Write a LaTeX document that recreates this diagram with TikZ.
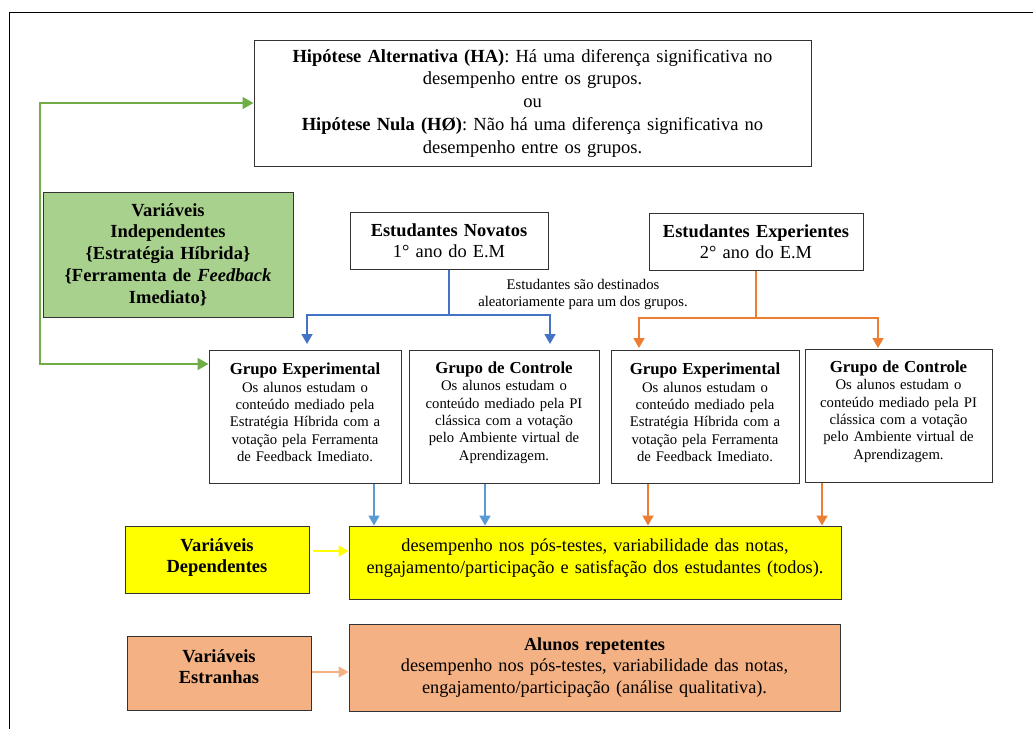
\documentclass[tikz,border=0pt]{standalone}
\usepackage{fontspec}
\setmainfont{Liberation Serif}
\usetikzlibrary{arrows.meta}
\definecolor{gline}{HTML}{70AD47}
\definecolor{gfill}{HTML}{A9D18E}
\definecolor{bline}{HTML}{4472C4}
\definecolor{bline2}{HTML}{5B9BD5}
\definecolor{oline}{HTML}{ED7D31}
\definecolor{pfill}{HTML}{F4B183}
\definecolor{yfill}{HTML}{FFFF00}
\definecolor{boxline}{HTML}{333333}
\newcommand{\gtitle}[1]{{\fontsize{16.8}{17.3}\selectfont\bfseries #1}}
\newcommand{\botpad}[1]{\par\kern#1\hrule height 0pt}
\begin{document}
\begin{tikzpicture}[x=1pt,y=-1pt,
  box/.style={draw=boxline, line width=1pt, align=center, inner sep=0pt, anchor=center},
  big/.style={font=\fontsize{18.5}{22.75}\selectfont},
  small/.style={font=\fontsize{14.7}{17.3}\selectfont},
  tip/.style={-{Triangle[length=10pt,width=11pt]}},
  conn/.style={line width=1.8pt, tip},
  both/.style={line width=1.8pt, {Triangle[length=11pt,width=12pt]}-{Triangle[length=11pt,width=12pt]}},
  plain/.style={line width=1.8pt}]
\useasboundingbox (0,0) rectangle (1033,729);
% outer frame
\coordinate (fbl) at (9.5,729);
\coordinate (ftl) at (9.5,12.5);
\coordinate (ftr) at (1033,12.5);
\draw[line width=1pt, black] (fbl) -- (ftl) -- (ftr);

% hypothesis box
\node[box, big, minimum width=557pt, minimum height=126pt, text width=552pt] (hyp) at (532.5,103)
{\textbf{Hipótese Alternativa (HA)}: Há uma diferença significativa no\\ desempenho entre os grupos.\\ ou\\ \textbf{Hipótese Nula (HØ)}: Não há uma diferença significativa no\\ desempenho entre os grupos.};

% independent variables
\node[box, fill=gfill, font=\fontsize{18.5}{21.7}\selectfont\bfseries, minimum width=250pt, minimum height=125pt, text width=247pt] (vi) at (168,254.5)
{Variáveis\\ Independentes\\ \{Estratégia Híbrida\}\\ \{Ferramenta de \textit{Feedback}\\ Imediato\}};

% students
\node[box, font=\fontsize{18.4}{21}\selectfont, minimum width=198pt, minimum height=57pt, text width=196pt] (nov) at (449,240.5)
{\textbf{Estudantes Novatos}\\ 1° ano do E.M};
\node[box, font=\fontsize{18.4}{21}\selectfont, minimum width=214pt, minimum height=57pt, text width=212pt] (exp) at (756,241.5)
{\textbf{Estudantes Experientes}\\ 2° ano do E.M};

\node[align=center, inner sep=0pt, font=\fontsize{14.7}{17}\selectfont] (note) at (583,294)
{Estudantes são destinados\\ aleatoriamente para um dos grupos.};

% groups
\node[box, small, minimum width=192pt, minimum height=133pt, text width=190pt] (g1) at (305,416.5)
{\gtitle{Grupo Experimental}\\ Os alunos estudam o\\ conteúdo mediado pela\\ Estratégia Híbrida com a\\ votação pela Ferramenta\\ de Feedback Imediato.\botpad{8pt}};
\node[box, small, minimum width=190pt, minimum height=133pt, text width=188pt] (g2) at (504,416.5)
{\gtitle{Grupo de Controle}\\ Os alunos estudam o\\ conteúdo mediado pela PI\\ clássica com a votação\\ pelo Ambiente virtual de\\ Aprendizagem.\botpad{8pt}};
\node[box, small, minimum width=188pt, minimum height=133pt, text width=186pt] (g3) at (705,416.5)
{\gtitle{Grupo Experimental}\\ Os alunos estudam o\\ conteúdo mediado pela\\ Estratégia Híbrida com a\\ votação pela Ferramenta\\ de Feedback Imediato.\botpad{8pt}};
\node[box, small, minimum width=187pt, minimum height=133pt, text width=185pt] (g4) at (898.5,415.5)
{\gtitle{Grupo de Controle}\\ Os alunos estudam o\\ conteúdo mediado pela PI\\ clássica com a votação\\ pelo Ambiente virtual de\\ Aprendizagem.\botpad{8pt}};

% dependent variables
\node[box, fill=yfill, font=\fontsize{18.5}{21.5}\selectfont\bfseries, minimum width=184pt, minimum height=67pt, text width=180pt] (vd) at (217,559.5)
{Variáveis\\ Dependentes\botpad{4pt}};
\node[box, fill=yfill, font=\fontsize{18.3}{22}\selectfont, minimum width=492pt, minimum height=73pt, text width=490pt] (dv) at (595,562.5)
{desempenho nos pós-testes, variabilidade das notas,\\ engajamento/participação e satisfação dos estudantes (todos).\botpad{8pt}};

% extraneous variables
\node[box, fill=pfill, font=\fontsize{18.5}{21.5}\selectfont\bfseries, minimum width=184pt, minimum height=74pt, text width=180pt] (ve) at (219,673)
{Variáveis\\ Estranhas\botpad{13pt}};
\node[box, fill=pfill, font=\fontsize{18.3}{21.5}\selectfont, minimum width=491pt, minimum height=87pt, text width=489pt] (ar) at (594.5,667.5)
{\textbf{Alunos repetentes}\\ desempenho nos pós-testes, variabilidade das notas,\\ engajamento/participação (análise qualitativa).};

% helper coordinates
\coordinate (gx) at (40,0);
\coordinate (gy) at (0,364);
\coordinate (by) at (0,315);
\coordinate (oy) at (0,318);
\coordinate (b1) at (307,344);
\coordinate (b2) at (550,344);
\coordinate (o1) at (639,348);
\coordinate (o2) at (878,348);
\coordinate (x1) at (374,0);
\coordinate (x2) at (485,0);
\coordinate (x3) at (648,0);
\coordinate (x4) at (822,0);
\coordinate (ya) at (0,551);
\coordinate (yb) at (0,672);

% green connector
\draw[both, gline] (hyp.west) -| (gx |- gy) -- (g1.west |- gy);

% blue branch
\draw[plain, bline] (nov.south) -- (nov.south |- by);
\draw[conn, bline] (nov.south |- by) -| (b1);
\draw[conn, bline] (nov.south |- by) -| (b2);

% orange branch
\draw[plain, oline] (exp.south) -- (exp.south |- oy);
\draw[conn, oline] (exp.south |- oy) -| (o1);
\draw[conn, oline] (exp.south |- oy) -| (o2);

% groups to outcomes
\draw[conn, bline2] (g1.south -| x1) -- (dv.north -| x1);
\draw[conn, bline2] (g2.south -| x2) -- (dv.north -| x2);
\draw[conn, oline] (g3.south -| x3) -- (dv.north -| x3);
\draw[conn, oline] (g4.south -| x4) -- (dv.north -| x4);

% variable arrows
\draw[conn, yfill] ([xshift=3pt]vd.east |- ya) -- (dv.west |- ya);
\draw[conn, pfill] (ve.east |- yb) -- (ar.west |- yb);
\end{tikzpicture}
\end{document}
